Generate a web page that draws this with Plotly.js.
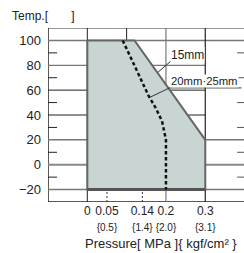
<!DOCTYPE html>
<html><head><meta charset="utf-8">
<script src="https://cdn.plot.ly/plotly-3.0.1.min.js"></script>
<style>html,body{margin:0;padding:0;overflow:hidden;background:#fff}#c{width:244px;height:253px}</style>
</head><body><div id="c"></div>
<script>
// Data
const pressureTicks = [0, 0.05, 0.14, 0.2, 0.3];
const mpaLabels = ['0', '0.05', '0.14', '0.2', '0.3'];
const kgfLabels = ['', '{0.5}', '{1.4}', '{2.0}', '{3.1}'];
const tempTicks = [100, 80, 60, 40, 20, 0, -20];
const tempLabels = ['100', '80', '60', '40', '20', '0', '\u221220'];
const minorTemps = [90, 70, 50, 30, 10, -10];
// 15mm usable range (polygon)
const range15P = [0, 0.12, 0.3, 0.3, 0, 0];
const range15T = [100, 100, 20, -20, -20, 100];
// 20mm / 25mm limit (dashed)
const range2025P = [0.09, 0.11, 0.13, 0.155, 0.175, 0.19, 0.2, 0.2];
const range2025T = [100, 87, 73, 56, 45, 35, 20, -20];

const X0 = -0.1, X1 = 0.3985, Y0 = -30, Y1 = 110;
const shapes = [];
function hline(y, x0, x1, color, w, layer) {
  shapes.push({type:'line', xref:'x', yref:'y', x0:x0, x1:x1, y0:y, y1:y, line:{color:color, width:w}, layer:layer||'below'});
}
function vline(x, y0, y1, color, w, dash, layer) {
  shapes.push({type:'line', xref:'x', yref:'y', x0:x, x1:x, y0:y0, y1:y1, line:{color:color, width:w, dash:dash||'solid'}, layer:layer||'below'});
}
// frame
hline(Y1, X0, X1, '#333', 1);
hline(Y0, X0, X1, '#222', 1.5);
vline(X0, Y0, Y1, '#222', 1.5);
// grid
hline(100, X0, X1, '#777', 1.5);
hline(80, X0, 0.3, '#777', 1.2);
hline(60, X0, 0.3, '#222', 1);
hline(40, X0, 0.3, '#222', 1);
hline(20, X0, X1, '#777', 1.5);
hline(0, X0, X1, '#888', 2);
hline(-20, X0, X1, '#777', 1.5);
vline(0, Y0, Y1, '#222', 1);
vline(0.1, -20, Y1, '#222', 1);
vline(0.2, Y0, Y1, '#777', 1.2);
vline(0.3, Y0, Y1, '#222', 1.2);
vline(0.05, Y0, -20, '#333', 1, '2px,2px');
vline(0.14, Y0, -20, '#333', 1, '2px,2px');
// minor ticks
minorTemps.forEach(t => {
  hline(t, X0, -0.077, '#222', 1);
  hline(t, 0.381, X1, '#555', 1);
});
// label underlines + leaders
shapes.push({type:'line', xref:'x', yref:'y', x0:0.212, x1:0.295, y0:83.2, y1:83.2, line:{color:'#333', width:1}, layer:'above'});
shapes.push({type:'line', xref:'x', yref:'y', x0:0.212, x1:0.18, y0:83.2, y1:74.5, line:{color:'#333', width:1}, layer:'above'});
shapes.push({type:'line', xref:'x', yref:'y', x0:0.209, x1:0.392, y0:61.8, y1:61.8, line:{color:'#333', width:1}, layer:'above'});
shapes.push({type:'line', xref:'x', yref:'y', x0:0.209, x1:0.161, y0:61.8, y1:54.5, line:{color:'#333', width:1}, layer:'above'});

const FONT = 'Liberation Sans, Arial, sans-serif';
const traces = [
  {x: range15P, y: range15T, type:'scatter', mode:'lines', fill:'toself', fillcolor:'#c9d5d2',
   line:{color:'#666', width:2}, hoverinfo:'skip', showlegend:false},
  {x: [0, 0.3], y: [-20, -20], type:'scatter', mode:'lines', line:{color:'#555', width:3}, hoverinfo:'skip', showlegend:false},
  {x: range2025P, y: range2025T, type:'scatter', mode:'lines', line:{color:'#111', width:2.5, dash:'3.5px,2.5px'},
   hoverinfo:'skip', showlegend:false}
];
const tickText = mpaLabels.map((m, i) => kgfLabels[i] ? m + '<br><span style="font-size:10px">' + kgfLabels[i] + '</span>' : m);
const layout = {
  width:244, height:253,
  margin:{l:48, r:0, t:28, b:51, pad:0},
  paper_bgcolor:'#fff', plot_bgcolor:'rgba(0,0,0,0)',
  font:{family:FONT, color:'#222', size:12},
  xaxis:{range:[X0, X1], showgrid:false, zeroline:false, showline:false, ticks:'', tickangle:0,
    tickmode:'array', tickvals:pressureTicks, ticktext:tickText, tickfont:{size:12, color:'#222'}, fixedrange:true},
  yaxis:{range:[Y0, Y1], showgrid:false, zeroline:false, showline:false, ticks:'',
    tickmode:'array', tickvals:tempTicks, ticktext:tempLabels, tickfont:{size:13, color:'#222'},
    ticklabelstandoff:6, fixedrange:true},
  shapes: shapes,
  annotations:[
    {xref:'paper', yref:'paper', x:-0.195, y:1.07, xanchor:'left', yanchor:'middle', showarrow:false,
     text:'Temp.[\u00a0\u00a0\u00a0\u00a0\u00a0\u00a0\u00a0]', font:{size:12, color:'#222'}},
    {xref:'x', yref:'y', x:0.254, y:88, xanchor:'center', yanchor:'middle', showarrow:false,
     text:'15mm', font:{size:12, color:'#222'}, bgcolor:'#fff', borderpad:0},
    {xref:'x', yref:'y', x:0.2985, y:67, xanchor:'center', yanchor:'middle', showarrow:false,
     text:'20mm\u00b725mm', font:{size:11.3, color:'#222'}, bgcolor:'#fff', borderpad:0},
    {xref:'paper', yref:'paper', x:0.575, y:-0.238, xanchor:'center', yanchor:'middle', showarrow:false,
     text:'Pressure[ MPa ]{ kgf/cm\u00b2 }', font:{size:13, color:'#222'}}
  ]
};
Plotly.newPlot('c', traces, layout, {displayModeBar:false, staticPlot:true});
</script></body></html>
